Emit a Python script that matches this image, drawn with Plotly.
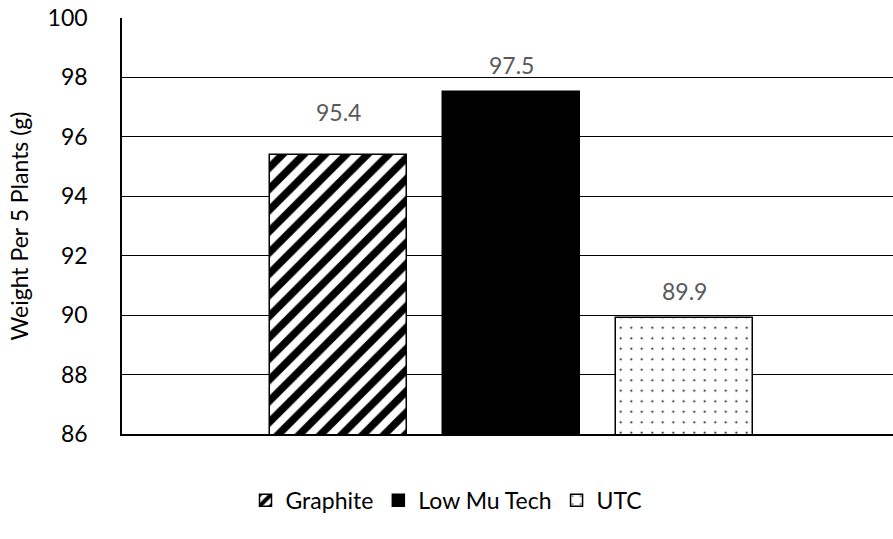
import plotly.graph_objects as go

# Average fresh weight of five plants per treatment
treatments = ["Graphite", "Low Mu Tech", "UTC"]
weights = [95.4, 97.5, 89.9]
y_ticks = [86, 88, 90, 92, 94, 96, 98, 100]

# Fill style per treatment: (pattern shape, pattern size, solidity, fill colour)
fills = [
    ("/", 15, 0.5, "white"),
    ("", 8, 0.3, "black"),
    (".", 10.5, 0.03, "white"),
]
# Extra lift of each value label above its bar (px)
label_lift = [19, 3, 3]

FONT = "Lato, 'Open Sans', sans-serif"

fig = go.Figure()
for i, (name, w) in enumerate(zip(treatments, weights)):
    shape, size, solid, colour = fills[i]
    fig.add_trace(go.Bar(
        x=[i], y=[w], name=name, width=0.79,
        marker=dict(
            color=colour,
            line=dict(color="black", width=1.5),
            pattern=dict(shape=shape, size=size, solidity=solid,
                         fgcolor="black", fgopacity=1, bgcolor=colour,
                         fillmode="overlay"),
        ),
        hoverinfo="skip",
    ))
    fig.add_annotation(
        x=i, y=w, text=f"{w:.1f}", showarrow=False,
        yanchor="bottom", yshift=8 + label_lift[i],
        font=dict(family=FONT, size=23, color="#595959"),
    )

fig.update_layout(
    width=893, height=539,
    margin=dict(l=122, r=0, t=18, b=105),
    paper_bgcolor="white", plot_bgcolor="white",
    font=dict(family=FONT, size=23, color="black"),
    showlegend=True,
    legend=dict(
        orientation="h", xref="container", yref="container",
        x=0.5, xanchor="center", y=0.072, yanchor="middle",
        font=dict(family=FONT, size=23, color="black"),
        itemwidth=30, traceorder="normal",
    ),
    bargap=0,
)
fig.update_xaxes(
    range=[-1.251, 3.205], showticklabels=False, showgrid=False,
    zeroline=False, showline=True, linecolor="black", linewidth=1.5, ticks="",
)
fig.update_yaxes(
    range=[86, 100], tickvals=y_ticks, showgrid=True, gridcolor="black",
    gridwidth=1.3, zeroline=False, showline=True, linecolor="black",
    linewidth=1.5, ticks="", ticklabelstandoff=28,
    tickfont=dict(family=FONT, size=23, color="black"),
    title=dict(text="Weight Per 5 Plants (g)", standoff=13,
               font=dict(family=FONT, size=23, color="black")),
)

fig.write_html("out.html")
